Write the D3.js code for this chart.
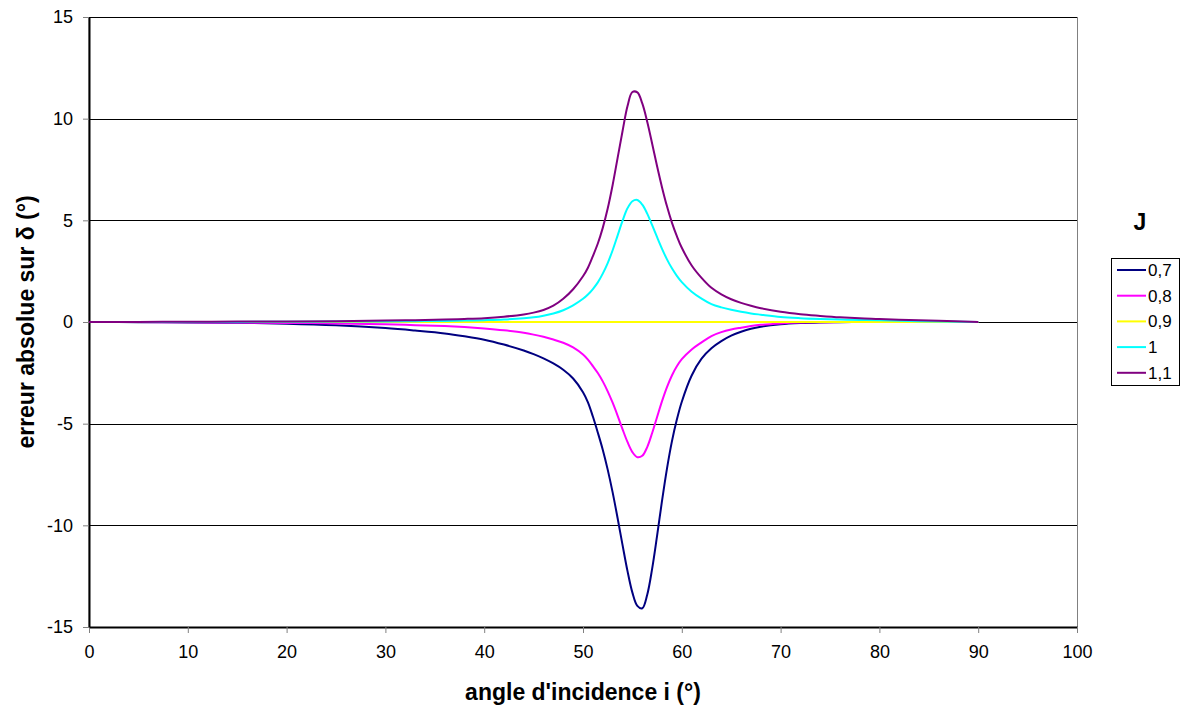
<!DOCTYPE html>
<html>
<head>
<meta charset="utf-8">
<script src="https://cdnjs.cloudflare.com/ajax/libs/d3/7.8.5/d3.min.js"></script>
<style>
  body { margin: 0; background: #fff; }
  svg { font-family: "Liberation Sans", Arial, sans-serif; }
</style>
</head>
<body>
<div id="chart"></div>
<script>
// angle d'incidence (°)
var angles = [0, 5, 10, 15, 20, 25, 30, 33, 36, 38, 40, 42, 44, 45, 46, 47, 48, 49, 50,
  50.5, 51, 51.5, 52, 52.5, 53, 53.5, 54, 54.5, 55, 55.5, 56, 56.5, 57, 57.5, 58, 58.5,
  59, 59.5, 60, 61, 62, 63, 64, 65, 66, 67, 68, 70, 72, 74, 76, 78, 80, 83, 86, 90];

// erreur absolue sur delta, one list per J
var j07 = [0, -0.01, -0.02, -0.04, -0.08, -0.16, -0.3, -0.42, -0.56, -0.7, -0.87, -1.11, -1.4, -1.58, -1.79, -2.04, -2.35, -2.78, -3.45,
  -3.95, -4.65, -5.44, -6.28, -7.26, -8.38, -9.64, -10.96, -12.24, -13.31, -13.96, -14.08, -13.41, -12.13, -10.51, -8.79, -7.21,
  -5.87, -4.8, -3.92, -2.63, -1.8, -1.29, -0.94, -0.67, -0.48, -0.33, -0.23, -0.11, -0.05, -0.02, -0.01, 0, 0, 0, 0, 0];
var j08 = [0, -0.005, -0.015, -0.03, -0.045, -0.07, -0.115, -0.155, -0.2, -0.25, -0.32, -0.41, -0.53, -0.62, -0.73, -0.86, -1.02, -1.25, -1.6,
  -1.85, -2.17, -2.51, -2.92, -3.41, -3.97, -4.6, -5.27, -5.9, -6.4, -6.65, -6.58, -6.15, -5.46, -4.67, -3.89, -3.2,
  -2.63, -2.18, -1.83, -1.35, -1.0, -0.69, -0.5, -0.37, -0.28, -0.2, -0.14, -0.07, -0.03, -0.015, -0.005, 0, 0, 0, 0, 0];
var j09 = [0, 0, 0, 0, 0, 0, 0, 0, 0, 0, 0, 0, 0, 0, 0, 0, 0, 0, 0,
  0, 0, 0, 0, 0, 0, 0, 0, 0, 0, 0, 0, 0, 0, 0, 0, 0,
  0, 0, 0, 0, 0, 0, 0, 0, 0, 0, 0, 0, 0, 0, 0, 0, 0, 0, 0, 0];
var j10 = [0, 0, 0, 0.005, 0.01, 0.02, 0.03, 0.04, 0.055, 0.07, 0.09, 0.12, 0.18, 0.23, 0.31, 0.42, 0.58, 0.82, 1.14,
  1.35, 1.62, 1.95, 2.38, 2.9, 3.53, 4.25, 4.97, 5.59, 5.94, 6.0, 5.77, 5.33, 4.76, 4.17, 3.6, 3.08,
  2.64, 2.27, 1.96, 1.49, 1.15, 0.88, 0.72, 0.6, 0.5, 0.42, 0.36, 0.25, 0.19, 0.15, 0.12, 0.1, 0.08, 0.05, 0.03, 0];
var j11 = [0, 0.005, 0.01, 0.02, 0.03, 0.04, 0.07, 0.09, 0.12, 0.15, 0.19, 0.26, 0.37, 0.46, 0.59, 0.8, 1.14, 1.61, 2.25,
  2.67, 3.24, 3.86, 4.63, 5.58, 6.74, 8.06, 9.38, 10.61, 11.31, 11.29, 10.75, 9.85, 8.77, 7.66, 6.62, 5.69,
  4.89, 4.22, 3.65, 2.78, 2.17, 1.68, 1.36, 1.12, 0.94, 0.8, 0.68, 0.5, 0.38, 0.3, 0.23, 0.18, 0.15, 0.1, 0.06, 0];

var seriesNames = ["0,7", "0,8", "0,9", "1", "1,1"];
var seriesValues = [j07, j08, j09, j10, j11];
var seriesColors = ["#000080", "#ff00ff", "#ffff00", "#00ffff", "#800080"];

var xTicks = [0, 10, 20, 30, 40, 50, 60, 70, 80, 90, 100];
var yTicks = [-15, -10, -5, 0, 5, 10, 15];

var width = 1183, height = 706;
var plotLeft = 89, plotRight = 1077, plotTop = 17, plotBottom = 627;

var svg = d3.select("#chart").append("svg")
  .attr("width", width)
  .attr("height", height);

var x = d3.scaleLinear().domain([0, 100]).range([plotLeft, plotRight]);
var y = d3.scaleLinear().domain([-15, 15]).range([plotBottom, plotTop]);

// plot area border (grey)
svg.append("rect")
  .attr("x", plotLeft).attr("y", plotTop + 0.5)
  .attr("width", plotRight - plotLeft + 0.5).attr("height", plotBottom - plotTop)
  .attr("fill", "none").attr("stroke", "#808080").attr("stroke-width", 1);

// horizontal gridlines
svg.append("g").selectAll("line")
  .data(yTicks)
  .enter().append("line")
  .attr("x1", plotLeft).attr("x2", plotRight)
  .attr("y1", function(d) { return Math.round(y(d)) + 0.5; })
  .attr("y2", function(d) { return Math.round(y(d)) + 0.5; })
  .attr("stroke", "#000").attr("stroke-width", 1);

// axes (plain hyphen for negatives, like the original)
var fmt = function(d) { return String(d); };
var xAxis = svg.append("g")
  .attr("transform", "translate(0," + plotBottom + ")")
  .call(d3.axisBottom(x).tickValues(xTicks).tickFormat(fmt).tickSize(6).tickPadding(12).tickSizeOuter(0));
var yAxis = svg.append("g")
  .attr("transform", "translate(" + plotLeft + ",0)")
  .call(d3.axisLeft(y).tickValues(yTicks).tickFormat(fmt).tickSize(6).tickPadding(10).tickSizeOuter(0));

[xAxis, yAxis].forEach(function(a) {
  a.select(".domain").attr("stroke", "#000").attr("stroke-width", 2);
  a.selectAll(".tick line").attr("stroke", "#808080");
  a.selectAll(".tick text")
    .attr("font-family", "Liberation Sans, Arial, sans-serif")
    .attr("font-size", 18).attr("fill", "#000");
});

// series lines
var line = d3.line()
  .x(function(d) { return x(d[0]); })
  .y(function(d) { return y(d[1]); })
  .curve(d3.curveCatmullRom.alpha(0.5));

svg.append("g").selectAll("path")
  .data(seriesValues)
  .enter().append("path")
  .attr("d", function(vals) { return line(angles.map(function(a, i) { return [a, vals[i]]; })); })
  .attr("fill", "none")
  .attr("stroke", function(d, i) { return seriesColors[i]; })
  .attr("stroke-width", 2);

// axis titles
svg.append("text")
  .attr("x", (plotLeft + plotRight) / 2).attr("y", 700)
  .attr("text-anchor", "middle")
  .attr("font-size", 23).attr("font-weight", "bold")
  .text("angle d'incidence i (°)");

svg.append("text")
  .attr("transform", "translate(34," + ((plotTop + plotBottom) / 2) + ") rotate(-90)")
  .attr("text-anchor", "middle")
  .attr("font-size", 23).attr("font-weight", "bold")
  .text("erreur absolue sur δ (°)");

// legend
svg.append("text")
  .attr("x", 1140).attr("y", 230)
  .attr("text-anchor", "middle")
  .attr("font-size", 23).attr("font-weight", "bold")
  .text("J");

var legend = svg.append("g");
legend.append("rect")
  .attr("x", 1111.5).attr("y", 258.5)
  .attr("width", 68).attr("height", 127)
  .attr("fill", "#fff").attr("stroke", "#000").attr("stroke-width", 1);

var items = legend.selectAll("g.item")
  .data(seriesNames)
  .enter().append("g")
  .attr("class", "item")
  .attr("transform", function(d, i) { return "translate(0," + (270 + i * 25.7) + ")"; });

items.append("line")
  .attr("x1", 1117).attr("x2", 1146)
  .attr("y1", 0).attr("y2", 0)
  .attr("stroke", function(d, i) { return seriesColors[i]; })
  .attr("stroke-width", 2);

items.append("text")
  .attr("x", 1148).attr("y", 6)
  .attr("font-size", 17)
  .text(function(d) { return d; });
</script>
</body>
</html>
